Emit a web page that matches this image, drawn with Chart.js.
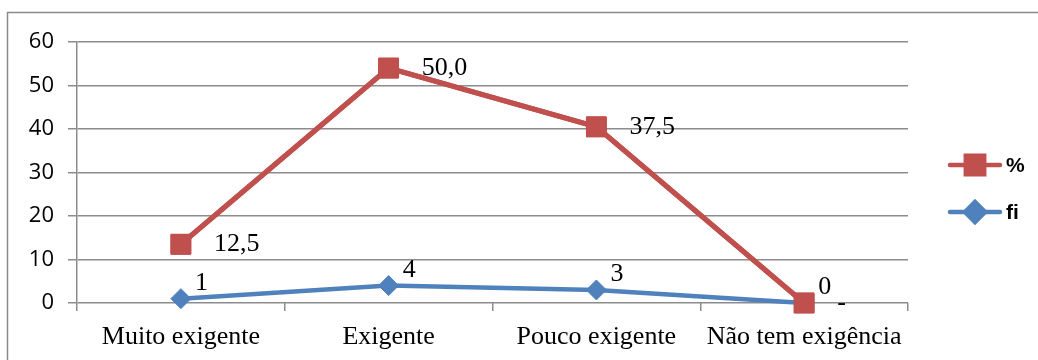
<!DOCTYPE html>
<html>
<head>
<meta charset="utf-8">
<script src="https://cdn.jsdelivr.net/npm/chart.js@4"></script>
<style>
  html, body { margin: 0; padding: 0; background: #fff; }
  #wrap { width: 1038px; height: 360px; position: relative; }
</style>
</head>
<body>
<div id="wrap"><canvas id="myChart"></canvas></div>
<script>
const categories = ["Muito exigente", "Exigente", "Pouco exigente", "Não tem exigência"];
const fiValues = [1, 4, 3, 0];
const pctValues = [12.5, 50, 37.5, 0];
const fiLabels = ["1", "4", "3", "0"];
const pctLabels = ["12,5", "50,0", "37,5", "-"];
const yTicks = [0, 10, 20, 30, 40, 50, 60];

const RED = "#C0504D";
const BLUE = "#4F81BD";
const GRID = "#8c8c8c";
const SERIF = "'Liberation Serif', 'Times New Roman', serif";

// % series is stacked on fi but painted over it, then the value labels
const valueLabels = {
  id: "valueLabels",
  afterDatasetsDraw(chart) {
    chart.getDatasetMeta(1).controller.draw();

    const ctx = chart.ctx;
    ctx.save();
    ctx.fillStyle = "#000";
    ctx.font = "26px " + SERIF;
    ctx.textAlign = "left";

    chart.getDatasetMeta(1).data.forEach((pt, i) => {
      ctx.textBaseline = "middle";
      ctx.fillText(pctLabels[i], pt.x + 33, pt.y);
    });
    chart.getDatasetMeta(0).data.forEach((pt, i) => {
      ctx.textBaseline = "alphabetic";
      ctx.fillText(fiLabels[i], pt.x + 14, pt.y - 9);
    });
    ctx.restore();
  },
};

// outer frame and legend on the right
const frameAndLegend = {
  id: "frameAndLegend",
  afterDraw(chart) {
    const ctx = chart.ctx;
    ctx.save();
    ctx.strokeStyle = "#8a8a8a";
    ctx.lineWidth = 1.5;
    ctx.beginPath();
    ctx.moveTo(7.5, 370);
    ctx.lineTo(7.5, 12.5);
    ctx.lineTo(1040, 12.5);
    ctx.stroke();

    const items = [
      { text: "%", color: RED, style: "rect", y: 165 },
      { text: "fi", color: BLUE, style: "rectRot", y: 212 },
    ];
    items.forEach((it) => {
      ctx.strokeStyle = it.color;
      ctx.lineWidth = 4.5;
      ctx.lineCap = "round";
      ctx.beginPath();
      ctx.moveTo(950, it.y);
      ctx.lineTo(1000, it.y);
      ctx.stroke();
      ctx.fillStyle = it.color;
      Chart.helpers.drawPoint(ctx, { pointStyle: it.style, radius: it.style === "rect" ? 13 : 10, borderWidth: 1 }, 975, it.y);
      ctx.fill();
      ctx.fillStyle = "#000";
      ctx.font = "bold 21px 'Liberation Sans', Arial, sans-serif";
      ctx.textAlign = "left";
      ctx.textBaseline = "middle";
      ctx.fillText(it.text, 1006, it.y + 1);
    });
    ctx.restore();
  },
};

new Chart(document.getElementById("myChart"), {
  type: "line",
  data: {
    labels: categories,
    datasets: [
      {
        label: "fi",
        data: fiValues,
        borderColor: BLUE,
        backgroundColor: BLUE,
        borderWidth: 4.5,
        pointStyle: "rectRot",
        pointRadius: 10,
        pointBorderWidth: 1,
        pointBorderColor: BLUE,
        pointBackgroundColor: BLUE,
        clip: false,
      },
      {
        label: "%",
        data: pctValues,
        borderColor: RED,
        backgroundColor: RED,
        borderWidth: 5,
        pointStyle: "rect",
        pointRadius: 14,
        pointBorderWidth: 1,
        pointBorderColor: RED,
        pointBackgroundColor: RED,
        clip: false,
      },
    ],
  },
  options: {
    responsive: true,
    maintainAspectRatio: false,
    animation: false,
    layout: { padding: { top: 42, right: 130, bottom: 0, left: 0 } },
    plugins: {
      legend: { display: false },
      tooltip: { enabled: false },
    },
    scales: {
      x: {
        offset: true,
        grid: {
          offset: true,
          drawOnChartArea: false,
          color: GRID,
          lineWidth: 1.5,
          tickLength: 8,
        },
        border: { display: false },
        ticks: {
          color: "#000",
          font: { family: SERIF, size: 26 },
          padding: 11,
          maxRotation: 0,
        },
        afterFit(scale) {
          scale.height = 57;
        },
      },
      y: {
        stacked: true,
        min: 0,
        max: 60,
        afterBuildTicks(scale) {
          scale.ticks = yTicks.map((v) => ({ value: v }));
        },
        grid: { color: GRID, lineWidth: 1.5, tickLength: 9 },
        border: { color: GRID, width: 1.5 },
        ticks: {
          color: "#000",
          font: { family: "'Open Sans', sans-serif", size: 22 },
          padding: 14,
        },
        afterFit(scale) {
          scale.width = 77;
        },
      },
    },
  },
  plugins: [valueLabels, frameAndLegend],
});
</script>
</body>
</html>
